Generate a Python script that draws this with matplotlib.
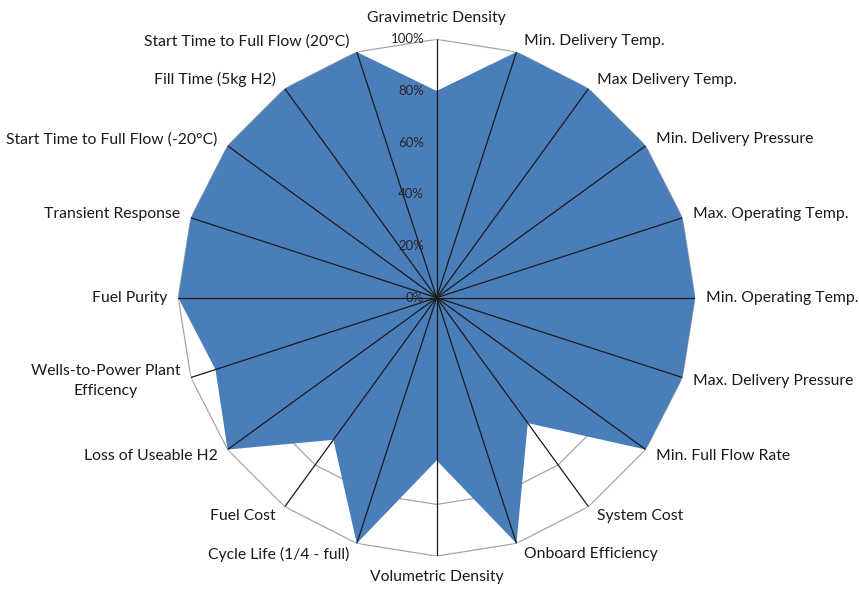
import matplotlib
matplotlib.use("Agg")
import matplotlib.pyplot as plt
import numpy as np

plt.rcParams['font.family'] = ['Lato', 'DejaVu Sans']

categories = ["Gravimetric Density", "Min. Delivery Temp.", "Max Delivery Temp.",
              "Min. Delivery Pressure", "Max. Operating Temp.", "Min. Operating Temp.",
              "Max. Delivery Pressure", "Min. Full Flow Rate", "System Cost",
              "Onboard Efficiency", "Volumetric Density", "Cycle Life (1/4 - full)",
              "Fuel Cost", "Loss of Useable H2", "Wells-to-Power Plant\nEfficency",
              "Fuel Purity", "Transient Response", "Start Time to Full Flow (-20°C)",
              "Fill Time (5kg H2)", "Start Time to Full Flow (20°C)"]
values = [0.80, 1.0, 1.0, 1.0, 1.0, 1.0, 1.0, 1.0, 0.60, 1.0,
          0.63, 1.0, 0.68, 1.0, 0.90, 1.0, 1.0, 1.0, 1.0, 1.0]
levels = [0.0, 0.2, 0.4, 0.6, 0.8, 1.0]
level_labels = ["0%", "20%", "40%", "60%", "80%", "100%"]

n = len(categories)
angles = np.arange(n) * 2 * np.pi / n
closed = np.append(angles, angles[0])

fig = plt.figure(figsize=(8.59, 5.89), dpi=100)
ax = fig.add_axes([0.2075, 0.0559, 0.6016, 0.8774], projection='polar')
ax.set_theta_zero_location('N')
ax.set_theta_direction(-1)
ax.set_ylim(0, 1)
ax.grid(False)
ax.set_xticks([])
ax.set_yticks([])
ax.spines['polar'].set_visible(False)

# polygon rings
for lv in levels[1:]:
    ax.plot(closed, [lv] * (n + 1), color='#a6a6a6', lw=0.9, zorder=1)

vals = np.append(values, values[0])
ax.fill(closed, vals, color='#4a7ebb', zorder=2, lw=0)

# spokes
for a in angles:
    ax.plot([a, a], [0, 1], color='#1a1a1a', lw=0.9, zorder=3)

for lv, lab in zip(levels, level_labels):
    ax.annotate(lab, xy=(0, lv), xytext=(-9, 0), textcoords='offset points',
                ha='right', va='center', fontsize=9.5, color='#262626', zorder=4)

for a, lab in zip(angles, categories):
    s, c = np.sin(a), np.cos(a)
    if abs(s) < 0.01:
        ha = 'center'
        va = 'bottom' if c > 0 else 'top'
        off = (0, 10 * np.sign(c))
    else:
        ha = 'left' if s > 0 else 'right'
        va = 'center'
        off = (8 * s + 4 * np.sign(s) * (1 - abs(s)), 8 * c)
    ax.annotate(lab, xy=(a, 1), xytext=off, textcoords='offset points',
                ha=ha, va=va, fontsize=11.3, color='#1a1a1a', linespacing=1.5,
                multialignment='center', annotation_clip=False)

fig.savefig("out.png", dpi=100)
